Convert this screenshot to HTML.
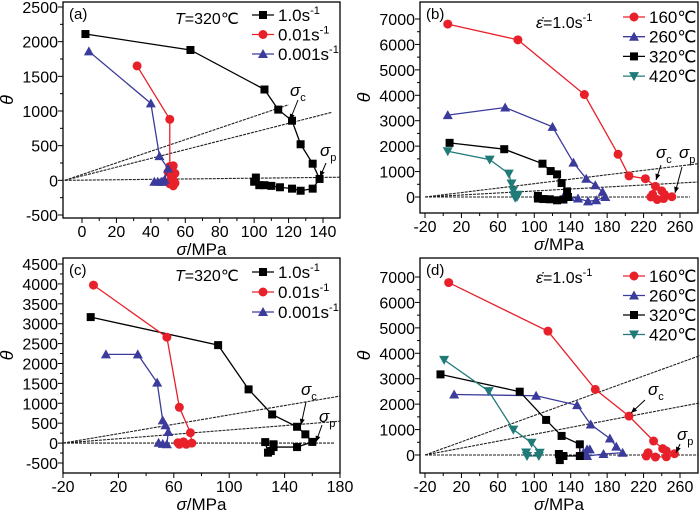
<!DOCTYPE html>
<html><head><meta charset="utf-8"><style>
body{margin:0;background:#fff}
svg{display:block;font-family:"Liberation Sans",sans-serif}
</style></head><body>
<svg id="c" width="700" height="512" viewBox="0 0 700 512"></svg>
<script>
// ---------- data ----------
const aX_10=[2,63,106,114,122,127,134,138,134,127,122,115,110,106,103,100,101];
const aY_10=[2110,1880,1310,1020,860,520,240,20,-120,-150,-120,-100,-80,-70,-70,-20,40];
const aX_001=[32,51,51,53,50,54,52,53,51,53,54,52];
const aY_001=[1650,880,200,210,120,100,50,0,-50,-80,-40,20];
const aX_0001=[4,40,45,50,48,46,44,42,47];
const aY_0001=[1860,1110,350,170,10,-20,-20,-20,-20];
const aRefX=[120,145,150];const aRefY=[1090,980,45];

const bX_160=[5,82,155,192,204,222,233,240,243,251,242,235,230,228];
const bY_160=[6800,6180,4030,1680,830,720,420,240,100,10,-60,-100,100,0];
const bX_260=[5,68,120,143,157,167,175,178,168,159,148,139,134];
const bY_260=[3220,3520,2760,1350,720,460,200,0,-130,-170,-60,0,130];
const bX_320=[7,67,109,118,125,130,136,137,132,125,117,110,104,104];
const bY_320=[2130,1880,1310,1020,890,550,220,0,-100,-130,-90,-80,-60,40];
const bX_420=[5,51,72,75,77,78,79,81,82];
const bY_420=[1800,1470,920,530,260,70,-30,0,90];
const bRefX=[280,280,271];const bRefY=[1310,590,0];

const cX_10=[0,92,114,131,149,155,160,149,132,132,130,128,126];
const cY_10=[3166,2462,1350,720,410,220,30,-100,-100,-30,-200,-240,25];
const cX_001=[2,55,64,72,73,69,67,64,63];
const cY_001=[3970,2660,900,260,0,-30,30,-30,10];
const cX_0001=[11,34,48,52,54,56,55,52,49];
const cY_0001=[2230,2230,1520,570,450,280,-30,-20,10];
const cRefX=[180,180,176];const cRefY=[1180,550,0];

const dX_160=[6,115,167,204,231,241,245,254,245,233,223,225];
const dY_160=[6780,4870,2580,1530,550,250,160,50,-70,-80,-40,90];
const dX_260=[12,102,147,162,183,190,197,176,158,154,158,161];
const dY_260=[2380,2330,1960,1200,650,330,90,40,-40,90,220,220];
const dX_320=[-3,84,113,130,150,150,128,127,128,132];
const dY_320=[3170,2490,1380,750,420,-40,-40,40,-200,-40];
const dX_420=[1,50,77,97,106,105,92,91];
const dY_420=[3740,2510,1000,480,90,-40,-40,100];
const dRefX=[282,282,280];const dRefY=[3910,2050,0];

const aXTicks=[0,20,40,60,80,100,120,140];const aYTicks=[-500,0,500,1000,1500,2000,2500];
const bXTicks=[-20,20,60,100,140,180,220,260];const bYTicks=[0,1000,2000,3000,4000,5000,6000,7000];
const cXTicks=[-20,20,60,100,140,180];const cYTicks=[-500,0,500,1000,1500,2000,2500,3000,3500,4000,4500];
const dXTicks=[-20,20,60,100,140,180,220,260];const dYTicks=[0,1000,2000,3000,4000,5000,6000,7000];

const NS="http://www.w3.org/2000/svg";
const svg=document.getElementById('c');
function el(t,a,p){const e=document.createElementNS(NS,t);for(const k in a)e.setAttribute(k,a[k]);(p||svg).appendChild(e);return e;}
const COL={black:"#000",red:"#e8202a",blue:"#3b3b9c",teal:"#1f7a78"};

function marker(g,shape,x,y,c){
  let m;
  if(shape==='sq')m=el('rect',{x:x-4,y:y-4,width:8,height:8,fill:c},g);
  else if(shape==='ci')m=el('circle',{cx:x,cy:y,r:4.5,fill:c},g);
  else if(shape==='tu')m=el('polygon',{points:`${x},${y-5} ${x+5},${y+4} ${x-5},${y+4}`,fill:c},g);
  else m=el('polygon',{points:`${x},${y+5} ${x+5},${y-4} ${x-5},${y-4}`,fill:c},g);
  
  
}

function panel(P){
  const g=el('g',{});
  
  
  const [x0,y0,x1,y1]=P.frame;
  const sx=v=>P.xm[1]+(v-P.xm[0])*(P.xm[3]-P.xm[1])/(P.xm[2]-P.xm[0]);
  const sy=v=>P.ym[1]+(v-P.ym[0])*(P.ym[3]-P.ym[1])/(P.ym[2]-P.ym[0]);
  const fr=el('rect',{x:x0,y:y0,width:x1-x0,height:y1-y0,fill:'none',stroke:'#000','stroke-width':1.3},g);
  
  const xt=P.xt, yt=P.yt;
  xt.forEach((v,i)=>{const x=sx(v);
    el('line',{x1:x,y1:y1,x2:x,y2:y1+5,stroke:'#000'},g);
    const t=el('text',{x:x,y:y1+19,'font-size':16,'text-anchor':'middle'},g);t.textContent=v;
    
    if(i<xt.length-1){const m=sx((v+xt[i+1])/2);el('line',{x1:m,y1:y1,x2:m,y2:y1+3,stroke:'#000'},g);}
  });
  yt.forEach((v,i)=>{const y=sy(v);
    el('line',{x1:x0,y1:y,x2:x0-5,y2:y,stroke:'#000'},g);
    const t=el('text',{x:x0-5,y:y+6,'font-size':16,'text-anchor':'end'},g);t.textContent=v;
    
    if(i<yt.length-1){const m=sy((v+yt[i+1])/2);el('line',{x1:x0,y1:m,x2:x0-3,y2:m,stroke:'#000'},g);}
  });
  const xl=el('text',{x:(x0+x1)/2,y:y1+37,'font-size':17,'text-anchor':'middle'},g);
  xl.innerHTML='<tspan font-style="italic">σ</tspan>/MPa';
  
  const yx=x0-50, yy=(y0+y1)/2-10;
  const yl=el('text',{x:yx,y:yy,'font-size':18,'font-style':'italic','text-anchor':'middle',transform:`rotate(-90 ${yx} ${yy})`},g);
  yl.textContent='θ';
  P.refX.forEach((v,i)=>{const l=el('line',{x1:sx(P.refStart),y1:sy(0),x2:sx(v),y2:sy(P.refY[i]),stroke:'#222','stroke-width':1.1,'stroke-dasharray':'3,1'},g);
    });
  P.series.forEach(s=>{
    const sg=el('g',{},g);
    
    el('polyline',{points:s.x.map((v,i)=>sx(v)+','+sy(s.y[i])).join(' '),fill:'none',stroke:COL[s.c],'stroke-width':1.3},sg);
    s.x.forEach((v,i)=>marker(sg,s.m,sx(v),sy(s.y[i]),COL[s.c]));
  });
  P.series.forEach((s,i)=>{
    const ly=P.leg[1]+i*P.leg[2];
    const lg=el('g',{},g);
    
    el('line',{x1:P.leg[0],y1:ly,x2:P.leg[0]+22,y2:ly,stroke:COL[s.c],'stroke-width':1.3},lg);
    marker(lg,s.m,P.leg[0]+11,ly,COL[s.c]);
    const t=el('text',{x:P.leg[0]+26,y:ly+6,'font-size':17},lg);t.innerHTML=s.label;
  });
  const lab=el('text',{x:x0+6,y:y0+17,'font-size':15},g);lab.textContent='('+P.id+')';
  
  const ti=el('text',{x:P.title[0],y:P.title[1],'font-size':16},g);ti.innerHTML=P.title[2];
  
  P.ann.forEach(a=>{
    const t=el('text',{x:a[0],y:a[1],'font-size':17},g);
    t.innerHTML='<tspan font-style="italic">σ</tspan><tspan font-size="11" dy="5">'+a[2]+'</tspan>';
    
    el('line',{x1:a[3],y1:a[4],x2:a[5],y2:a[6],stroke:'#000','stroke-width':1},g);
    const ang=Math.atan2(a[6]-a[4],a[5]-a[3]);const L=6,W=2.5;
    const bx=a[5]-L*Math.cos(ang),by=a[6]-L*Math.sin(ang);
    el('polygon',{points:`${a[5]},${a[6]} ${bx+W*Math.sin(ang)},${by-W*Math.cos(ang)} ${bx-W*Math.sin(ang)},${by+W*Math.cos(ang)}`,fill:'#000'},g);
  });
}
const rs='s<tspan font-size="11" dy="-7">-1</tspan>';
panel({id:'a',frame:[63,2,340,218],xm:[0,82,140,323],ym:[2500,7,-500,215],xt:aXTicks,yt:aYTicks,refStart:-10,refX:aRefX,refY:aRefY,
 series:[{name:'1.0',x:aX_10,y:aY_10,c:'black',m:'sq',label:'1.0'+rs},{name:'0.01',x:aX_001,y:aY_001,c:'red',m:'ci',label:'0.01'+rs},{name:'0.001',x:aX_0001,y:aY_0001,c:'blue',m:'tu',label:'0.001'+rs}],
 leg:[252,15,19.5],title:[175,24,'<tspan font-style="italic">T</tspan>=320℃'],
 ann:[[290,96,'c',298,100,290,120],[320,156,'p',326,163,320,177]]});
panel({id:'b',frame:[420,2,698,213],xm:[-20,425,260,680],ym:[7000,19,0,197],xt:bXTicks,yt:bYTicks,refStart:-20,refX:bRefX,refY:bRefY,
 series:[{name:'160',x:bX_160,y:bY_160,c:'red',m:'ci',label:'160℃'},{name:'260',x:bX_260,y:bY_260,c:'blue',m:'tu',label:'260℃'},{name:'320',x:bX_320,y:bY_320,c:'black',m:'sq',label:'320℃'},{name:'420',x:bX_420,y:bY_420,c:'teal',m:'td',label:'420℃'}],
 leg:[623,17,19.7],title:[536,28,'<tspan font-style="italic">ε̇</tspan>=1.0'+rs],
 ann:[[656,158,'c',661,165,656,180],[679,158,'p',682,167,675,193]]});
panel({id:'c',frame:[63,258,340,473],xm:[-20,63,180,340],ym:[4500,264,-500,463],xt:cXTicks,yt:cYTicks,refStart:-20,refX:cRefX,refY:cRefY,
 series:[{name:'1.0',x:cX_10,y:cY_10,c:'black',m:'sq',label:'1.0'+rs},{name:'0.01',x:cX_001,y:cY_001,c:'red',m:'ci',label:'0.01'+rs},{name:'0.001',x:cX_0001,y:cY_0001,c:'blue',m:'tu',label:'0.001'+rs}],
 leg:[252,272,20],title:[175,281,'<tspan font-style="italic">T</tspan>=320℃'],
 ann:[[301,395,'c',306,402,301,425],[319,422,'p',322,425,316,442]]});
panel({id:'d',frame:[420,258,698,473],xm:[-20,425,260,680],ym:[7000,277,0,455],xt:dXTicks,yt:dYTicks,refStart:-20,refX:dRefX,refY:dRefY,
 series:[{name:'160',x:dX_160,y:dY_160,c:'red',m:'ci',label:'160℃'},{name:'260',x:dX_260,y:dY_260,c:'blue',m:'tu',label:'260℃'},{name:'320',x:dX_320,y:dY_320,c:'black',m:'sq',label:'320℃'},{name:'420',x:dX_420,y:dY_420,c:'teal',m:'td',label:'420℃'}],
 leg:[623,276,19.5],title:[536,283,'<tspan font-style="italic">ε̇</tspan>=1.0'+rs],
 ann:[[648,395,'c',645,400,631,413],[677,440,'p',680,444,676,453]]});
</script>
</body></html>
